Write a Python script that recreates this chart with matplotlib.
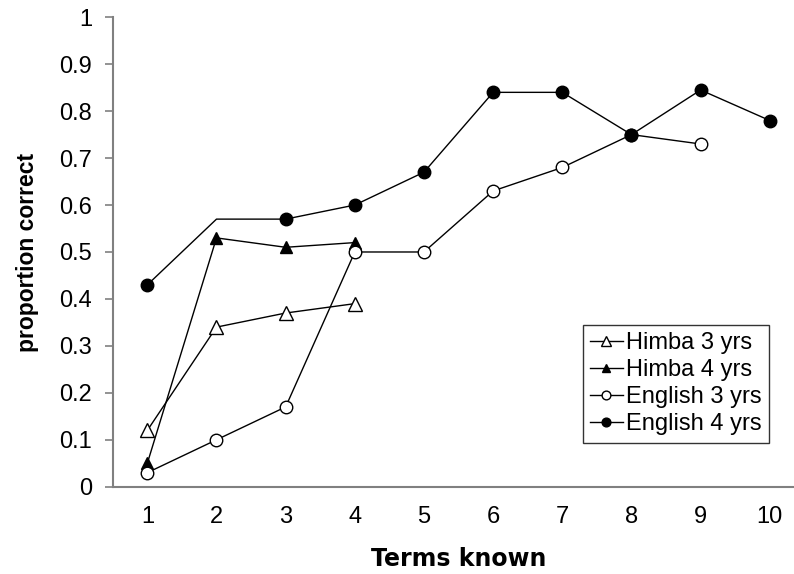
import matplotlib.pyplot as plt

# data
terms = [1, 2, 3, 4, 5, 6, 7, 8, 9, 10]
himba3 = [0.12, 0.34, 0.37, 0.39]
himba4 = [0.05, 0.53, 0.51, 0.52]
english3 = [0.03, 0.10, 0.17, 0.50, 0.50, 0.63, 0.68, 0.75, 0.73]
english4 = [0.43, 0.57, 0.57, 0.60, 0.67, 0.84, 0.84, 0.75, 0.845, 0.78]

plt.rcParams['font.family'] = ['Liberation Sans', 'DejaVu Sans']

fig = plt.figure(figsize=(7.94, 5.74), dpi=100)
ax = fig.add_axes([0.142, 0.152, 0.858, 0.818])

lw = 1.0
ax.plot(terms[:len(himba3)], himba3, color='black', lw=lw, marker='^', ms=10,
        mfc='white', mec='black', mew=1.0, label='Himba 3 yrs')
ax.plot(terms[:len(himba4)], himba4, color='black', lw=lw, marker='^', ms=8,
        mfc='black', mec='black', label='Himba 4 yrs')
ax.plot(terms[:len(english3)], english3, color='black', lw=lw, marker='o', ms=9,
        mfc='white', mec='black', mew=1.0, label='English 3 yrs')
# no marker is drawn at 2 terms in the original
ax.plot(terms, english4, color='black', lw=lw, marker='o', ms=9,
        mfc='black', mec='black', markevery=[0, 2, 3, 4, 5, 6, 7, 8, 9],
        label='English 4 yrs')

ax.set_xlim(0.5, 10.35)
ax.set_ylim(0, 1)
ax.set_xticks(terms)
ax.set_yticks([0, 0.1, 0.2, 0.3, 0.4, 0.5, 0.6, 0.7, 0.8, 0.9, 1.0])
ax.set_yticklabels(['0', '0.1', '0.2', '0.3', '0.4', '0.5', '0.6', '0.7', '0.8', '0.9', '1'])
ax.tick_params(axis='y', direction='out', length=6, width=1.2, color='#808080',
               labelsize=17, pad=9)
ax.tick_params(axis='x', length=0, labelsize=17, pad=14)

for side in ['top', 'right']:
    ax.spines[side].set_visible(False)
for side in ['left', 'bottom']:
    ax.spines[side].set_color('#808080')
    ax.spines[side].set_linewidth(1.5)

ax.set_ylabel('proportion correct', fontsize=16.5, fontweight='bold')
ax.yaxis.set_label_coords(-0.108, 0.5)
ax.set_xlabel('Terms known', fontsize=17, fontweight='bold', family='DejaVu Sans')
ax.xaxis.set_label_coords(0.508, -0.128)

leg = ax.legend(loc='upper left', bbox_to_anchor=(0.69, 0.345), fontsize=17,
                frameon=True, fancybox=False, edgecolor='black', markerscale=0.7,
                handlelength=1.4, handletextpad=0.15, borderpad=0.3,
                labelspacing=0.22, borderaxespad=0)
leg.get_frame().set_linewidth(1.0)

fig.savefig('out.png', dpi=100)
